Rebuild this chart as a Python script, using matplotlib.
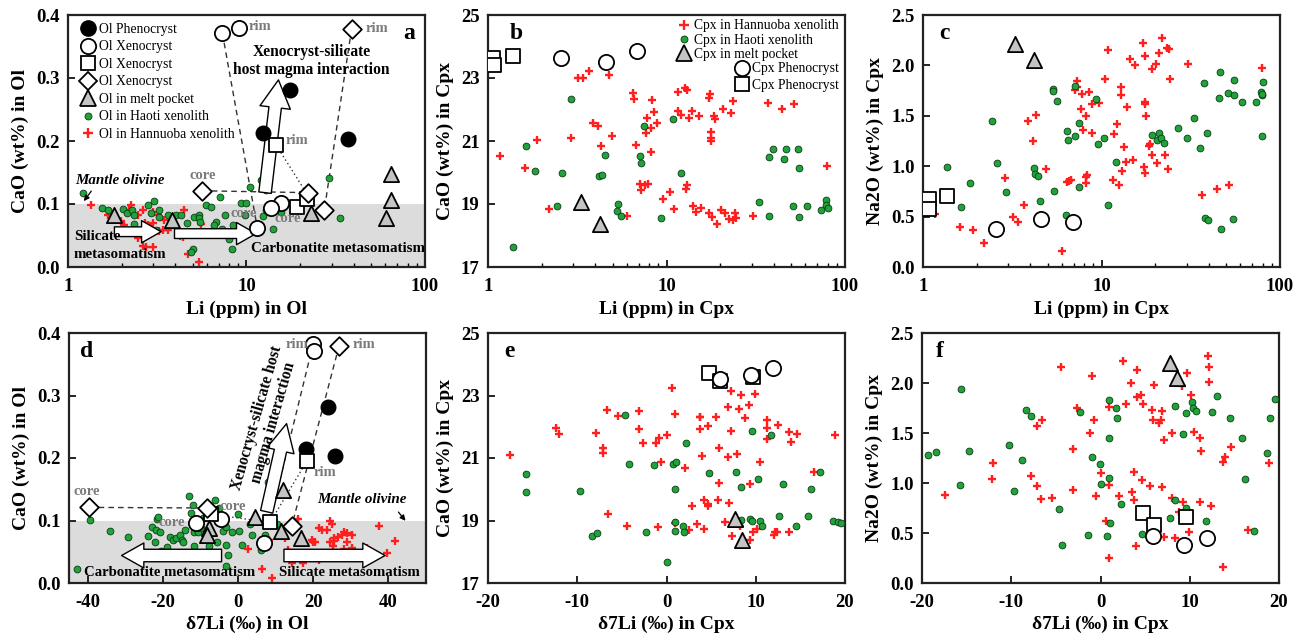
import matplotlib
matplotlib.use("Agg")
import matplotlib.pyplot as plt
import numpy as np
from matplotlib.lines import Line2D

plt.rcParams['font.family'] = ['Liberation Serif', 'DejaVu Serif']
plt.rcParams['font.weight'] = 'bold'
plt.rcParams['axes.labelweight'] = 'bold'
plt.rcParams['axes.unicode_minus'] = False

# ---------------- panel a : Li (ppm) vs CaO in olivine ----------------
a_pheno_li = [12.4, 17.6, 36.8]
a_pheno_ca = [0.213, 0.281, 0.203]
a_circ_li = [7.33, 9.02, 15.6, 13.8, 11.5]
a_circ_ca = [0.371, 0.380, 0.102, 0.094, 0.062]
a_sq_li = [14.7, 19.1, 21.7]
a_sq_ca = [0.193, 0.095, 0.108]
a_dia_li = [38.8, 5.64, 22.0, 27.3]
a_dia_ca = [0.378, 0.121, 0.118, 0.091]
a_tri_li = [1.80, 3.83, 23.1, 64.2, 64.2, 60.2]
a_tri_ca = [0.082, 0.074, 0.086, 0.147, 0.106, 0.078]
a_haoti_li = [1.22, 1.55, 1.67, 2.03, 2.14, 2.29, 2.35, 2.33, 2.80, 3.02, 2.92, 3.25,
              3.25, 3.12, 3.62, 4.03, 4.30, 4.65, 5.0, 4.9, 5.11, 5.45, 5.45, 5.5, 5.94,
              6.34, 6.76, 6.6, 6.4, 7.15, 7.3, 7.59, 7.93, 8.27, 8.4, 9.33, 9.75, 10.4,
              10.9, 12.0, 12.5, 12.9, 13.1, 9.9, 12.8, 12.3, 15.7, 14.0, 29.0, 33.4]
a_haoti_ca = [0.118, 0.093, 0.090, 0.092, 0.085, 0.090, 0.082, 0.069, 0.099, 0.104, 0.085,
              0.090, 0.079, 0.058, 0.083, 0.082, 0.082, 0.070, 0.029, 0.024, 0.080, 0.083,
              0.077, 0.072, 0.098, 0.095, 0.072, 0.066, 0.057, 0.111, 0.061, 0.082, 0.045,
              0.029, 0.067, 0.102, 0.082, 0.127, 0.058, 0.138, 0.131, 0.123, 0.159, 0.101,
              0.091, 0.081, 0.088, 0.061, 0.141, 0.077]
a_hann_li = [1.35, 1.67, 1.98, 2.07, 2.24, 2.21, 2.46, 2.62, 2.71, 2.80, 2.83, 2.48, 2.62,
             2.74, 2.98, 3.01, 2.98, 3.19, 3.25, 3.47, 3.39, 3.62, 4.49, 4.24, 4.39, 4.30,
             5.57, 5.45, 4.71]
a_hann_ca = [0.099, 0.082, 0.073, 0.066, 0.099, 0.090, 0.083, 0.091, 0.070, 0.066, 0.058,
             0.046, 0.034, 0.031, 0.032, 0.070, 0.087, 0.083, 0.057, 0.074, 0.058, 0.058,
             0.090, 0.050, 0.048, 0.055, 0.069, 0.008, 0.020]

# ---------------- panel b : Li vs CaO in Cpx ----------------
b_hann_li = [1.17, 1.61, 1.89, 2.20, 2.90, 3.20, 3.40, 3.68, 3.88, 4.13, 4.28, 4.75, 4.92,
             6.02, 6.45, 6.58, 6.72, 7.14, 7.24, 7.56, 7.87, 7.72, 7.78, 8.17, 8.23, 8.3,
             8.5, 8.8, 9.58, 10.4, 11.0, 11.6, 11.6, 12.1, 12.7, 13.1, 12.9, 13.0, 13.4,
             14.0, 13.9, 14.6, 15.3, 15.6, 17.4, 17.5, 17.7, 17.7, 17.7, 17.4, 17.9, 18.4,
             18.8, 19.1, 20.3, 20.8, 21.2, 22.3, 22.9, 23.5, 23.5, 24.2, 24.5, 30.4, 36.8,
             44.6, 51.8, 79.0]
b_hann_ca = [20.52, 20.15, 21.03, 18.83, 21.08, 22.99, 22.99, 23.22, 21.58, 21.48, 20.85,
             23.09, 21.15, 18.61, 22.51, 22.32, 20.87, 19.63, 19.44, 19.60, 19.65, 21.26,
             21.72, 20.66, 21.40, 22.30, 21.91, 21.58, 19.15, 19.37, 18.83, 22.56, 21.95,
             21.84, 22.69, 22.62, 19.49, 19.60, 21.72, 18.93, 21.95, 18.75, 21.79, 18.86,
             22.37, 22.48, 21.29, 21.11, 20.99, 18.72, 18.59, 21.79, 21.70, 18.35, 18.82,
             22.01, 18.70, 18.52, 21.90, 22.27, 18.49, 18.70, 18.57, 18.62, 22.22, 22.01,
             22.19, 20.21]
b_haoti_li = [1.38, 1.64, 1.83, 2.42, 2.61, 2.93, 4.19, 4.36, 4.54, 5.35, 5.31, 5.58, 7.14,
              7.18, 7.45, 9.29, 10.9, 12.1, 33.1, 37.5, 37.5, 39.5, 45.5, 46.5, 51.3, 54.4,
              55.3, 55.5, 60.9, 73.7, 77.9, 78.0, 79.8]
b_haoti_ca = [17.64, 20.85, 20.05, 18.94, 19.99, 22.33, 19.89, 19.92, 20.54, 19.00, 18.78,
              18.62, 20.53, 20.29, 21.47, 18.57, 21.70, 19.99, 19.05, 18.62, 20.50, 20.76,
              20.44, 20.76, 18.94, 20.75, 18.59, 20.15, 18.93, 18.82, 19.12, 18.96, 18.88]
b_tri_li = [3.31, 4.23]
b_tri_ca = [19.05, 18.36]
b_circ_li = [2.56, 4.61, 6.87]
b_circ_ca = [23.65, 23.52, 23.87]
b_sq_li = [1.07, 1.08, 1.38]
b_sq_ca = [23.62, 23.42, 23.70]

# ---------------- panel c : Li vs Na2O in Cpx ----------------
c_hann_li = [1.17, 1.61, 1.90, 2.19, 2.89, 3.20, 3.41, 3.67, 3.86, 4.14, 4.30, 4.65, 4.89,
             6.0, 6.42, 6.55, 6.74, 7.1, 7.3, 7.3, 7.7, 7.8, 7.9, 8.2, 8.2, 8.2, 8.3, 8.5,
             8.8, 8.8, 9.7, 10.4, 10.9, 11.6, 11.7, 12.2, 12.5, 12.9, 12.9, 13.3, 13.0,
             13.9, 13.7, 14.5, 15.1, 15.5, 17.1, 17.5, 17.5, 17.6, 17.3, 17.6, 17.7, 18.5,
             18.6, 19.1, 19.1, 20.3, 20.5, 21.1, 21.9, 22.7, 23.4, 24.0, 23.6, 24.3, 30.7,
             36.7, 44.5, 52.1, 79.2]
c_hann_na = [0.53, 0.40, 0.37, 0.24, 0.88, 0.50, 0.45, 0.62, 1.45, 1.25, 1.51, 0.46, 0.97,
             0.16, 0.84, 0.85, 0.86, 1.76, 1.85, 1.79, 1.57, 1.72, 1.36, 1.50, 0.89, 0.83,
             0.91, 1.74, 1.62, 1.33, 1.63, 1.87, 2.15, 0.86, 1.32, 1.42, 0.81, 1.79, 1.71,
             1.19, 0.95, 1.59, 1.04, 2.06, 1.06, 2.00, 2.22, 1.64, 1.62, 2.09, 0.99, 0.93,
             1.50, 1.20, 1.22, 1.96, 1.11, 2.01, 1.03, 2.12, 2.27, 1.11, 2.17, 2.16, 0.97,
             1.87, 2.01, 0.71, 0.77, 0.81, 1.97]
c_haoti_li = [1.37, 1.63, 1.83, 2.42, 2.60, 2.92, 4.21, 4.26, 4.39, 4.54, 5.33, 5.35, 5.40,
              5.64, 6.3, 6.42, 6.48, 7.15, 7.15, 7.45, 7.45, 9.3, 9.6, 10.3, 10.9, 12.1,
              19.3, 20.5, 20.9, 21.6, 22.3, 26.8, 30.2, 32.9, 35.8, 37.3, 37.8, 39.4, 39.0,
              45.5, 46.1, 46.8, 51.4, 54.7, 55.1, 55.5, 60.9, 73.7, 78.0, 79.0, 79.4, 80.8,
              79.0]
c_haoti_na = [0.99, 0.60, 0.83, 1.45, 1.03, 0.74, 0.98, 0.92, 0.90, 0.65, 1.77, 1.75, 0.75,
              1.65, 0.52, 1.35, 1.26, 1.30, 1.80, 1.43, 0.79, 1.67, 1.22, 1.28, 0.62, 1.04,
              1.31, 1.26, 1.33, 1.28, 1.23, 1.38, 1.28, 1.48, 1.18, 1.83, 0.49, 0.47, 1.33,
              1.68, 1.93, 0.38, 1.73, 0.48, 1.71, 1.86, 1.64, 1.64, 1.74, 1.71, 1.72, 1.84,
              1.30]
c_tri_li = [3.29, 4.17]
c_tri_na = [2.21, 2.05]
c_circ_li = [2.57, 4.58, 6.9]
c_circ_na = [0.38, 0.48, 0.45]
c_sq_li = [1.08, 1.08, 1.37]
c_sq_na = [0.67, 0.58, 0.70]

# ---------------- panel d : d7Li vs CaO in olivine ----------------
d_pheno_d7 = [18.0, 23.8, 25.8]
d_pheno_ca = [0.215, 0.282, 0.204]
d_circ_d7 = [20.0, 20.3, -11.2, -4.6, 7.0]
d_circ_ca = [0.383, 0.371, 0.096, 0.102, 0.064]
d_sq_d7 = [18.3, 8.5, -7.2]
d_sq_ca = [0.195, 0.097, 0.110]
d_dia_d7 = [26.9, -39.7, -8.4, 14.3]
d_dia_ca = [0.380, 0.121, 0.120, 0.092]
d_tri_d7 = [-7.7, -8.2, 4.5, 11.9, 11.4, 16.7]
d_tri_ca = [0.088, 0.077, 0.106, 0.149, 0.084, 0.072]
d_haoti_d7 = [-42.8, -39.3, -34.0, -29.3, -24.1, -23.0, -21.9, -21.5, -21.4, -20.8, -22.1,
              -20.4, -21.0, -18.8, -18.2, -17.4, -16.6, -15.5, -15.0, -14.6, -14.2, -13.1,
              -12.6, -11.9, -11.7, -11.7, -10.8, -9.9, -9.3, -7.7, -6.2, -5.7, -5.0, -3.9,
              -3.2, -3.2, -2.6, -3.2, -1.7, 0.1, 0.2, 1.1, 3.2, 3.8, 6.0, 7.2, 7.9, 10.3]
d_haoti_ca = [0.022, 0.101, 0.084, 0.073, 0.076, 0.089, 0.085, 0.102, 0.106, 0.082, 0.066,
              0.051, 0.044, 0.057, 0.074, 0.069, 0.072, 0.077, 0.069, 0.066, 0.085, 0.139,
              0.112, 0.125, 0.060, 0.081, 0.082, 0.088, 0.104, 0.059, 0.133, 0.066, 0.120,
              0.084, 0.089, 0.061, 0.045, 0.028, 0.082, 0.110, 0.084, 0.061, 0.095, 0.077,
              0.053, 0.077, 0.161, 0.094]
d_hann_d7 = [2.7, 6.3, 9.0, 8.3, 12.5, 13.4, 14.7, 14.3, 15.9, 17.4, 19.6, 19.9, 20.5, 21.6,
             21.6, 22.3, 23.6, 24.5, 24.9, 24.5, 25.2, 25.4, 25.6, 26.7, 27.6, 28.3, 28.9,
             28.9, 28.3, 30.2, 30.2, 34.2, 37.6, 39.6, 41.8]
d_hann_ca = [0.054, 0.022, 0.008, 0.069, 0.072, 0.053, 0.048, 0.032, 0.102, 0.032, 0.069,
             0.065, 0.066, 0.037, 0.088, 0.085, 0.085, 0.100, 0.095, 0.065, 0.059, 0.068,
             0.072, 0.074, 0.077, 0.082, 0.066, 0.080, 0.054, 0.056, 0.077, 0.056, 0.091,
             0.048, 0.068]

# ---------------- panel e : d7Li vs CaO in Cpx ----------------
e_hann_d7 = [-17.5, -12.4, -12.1, -7.9, -7.1, -7.1, -6.7, -6.6, -5.4, -4.4, -3.1, -3.1, -2.6,
             -1.2, -0.9, -0.8, -0.6, 0.0, 0.6, 0.9, 0.9, 2.1, 2.5, 2.9, 3.4, 3.7, 3.7, 3.8,
             4.0, 4.2, 4.2, 4.6, 4.7, 4.7, 5.5, 5.9, 5.9, 5.8, 6.6, 6.9, 6.9, 7.0, 7.2, 7.2,
             7.3, 7.9, 8.1, 8.2, 8.4, 8.8, 9.2, 9.3, 9.3, 9.7, 9.9, 10.1, 10.5, 11.3, 11.3,
             11.3, 12.1, 12.2, 12.4, 12.5, 13.7, 13.7, 14.0, 14.6, 16.5, 18.9]
e_hann_ca = [21.10, 21.97, 21.76, 21.81, 21.33, 21.17, 22.53, 19.20, 22.35, 18.84, 22.50,
             21.93, 21.49, 21.47, 18.78, 21.63, 20.88, 21.73, 23.24, 22.40, 18.91, 20.68,
             18.70, 19.47, 18.89, 21.93, 22.30, 22.30, 21.06, 19.66, 18.72, 22.02, 19.45,
             19.52, 22.30, 21.32, 20.21, 19.66, 18.95, 21.04, 22.64, 19.57, 23.14, 21.86,
             18.49, 21.12, 22.56, 18.81, 23.03, 22.27, 22.71, 20.17, 18.38, 18.63, 23.04,
             18.73, 20.88, 22.23, 21.97, 21.60, 18.54, 18.63, 18.62, 22.05, 18.63, 21.84,
             21.50, 21.77, 20.54, 21.73]
e_haoti_d7 = [-15.7, -15.7, -9.7, -8.4, -7.8, -4.7, -4.2, -2.3, -1.4, 0.1, 0.7, 1.1, 1.0, 0.9,
              1.0, 1.8, 2.0, 2.2, 4.8, 7.8, 8.4, 8.4, 9.3, 9.6, 9.6, 10.3, 10.5, 10.7, 11.7,
              12.6, 13.1, 14.5, 15.8, 16.2, 17.2, 18.7, 19.2, 19.6]
e_haoti_ca = [20.48, 19.90, 19.96, 18.49, 18.60, 22.37, 20.80, 18.62, 20.78, 17.66, 20.80,
              20.86, 20.00, 18.95, 18.67, 18.81, 18.63, 21.49, 20.53, 20.56, 20.06, 19.02,
              19.05, 18.97, 21.87, 20.32, 19.00, 18.84, 21.73, 19.15, 20.17, 18.84, 19.13,
              20.00, 20.54, 19.00, 18.94, 18.91]
e_tri_d7 = [7.7, 8.5]
e_tri_ca = [19.05, 18.38]
e_circ_d7 = [6.0, 9.5, 11.9]
e_circ_ca = [23.52, 23.65, 23.89]
e_sq_d7 = [4.8, 6.0, 9.7]
e_sq_ca = [23.72, 23.46, 23.60]

# ---------------- panel f : d7Li vs Na2O in Cpx ----------------
f_hann_d7 = [-17.4, -12.2, -12.0, -7.8, -7.1, -7.1, -6.5, -6.7, -5.4, -4.4, -3.1, -3.1, -2.6,
             -1.2, -0.9, -0.7, -0.5, 0.0, 0.6, 0.9, 0.9, 1.0, 2.1, 2.5, 2.9, 3.4, 3.5, 3.7,
             3.8, 4.0, 4.1, 4.1, 4.5, 4.7, 4.8, 5.6, 5.8, 5.9, 6.0, 6.5, 6.8, 6.9, 6.9, 7.1,
             7.1, 8.0, 8.0, 8.3, 8.3, 8.8, 9.1, 9.2, 9.4, 9.7, 9.9, 10.1, 10.5, 11.2, 11.2,
             11.3, 12.1, 12.2, 12.2, 12.4, 13.7, 13.7, 14.0, 14.6, 16.5, 18.9]
f_hann_na = [0.88, 1.04, 1.20, 1.07, 0.97, 1.57, 1.63, 0.84, 0.85, 2.16, 1.34, 0.93, 1.75,
             1.50, 2.07, 1.63, 0.87, 1.10, 0.62, 0.25, 0.98, 1.76, 0.87, 2.22, 1.79, 2.00,
             0.91, 1.11, 0.83, 0.37, 2.13, 1.86, 1.88, 1.03, 1.79, 0.97, 1.73, 1.63, 1.98,
             1.60, 1.63, 1.72, 0.96, 1.43, 0.46, 1.50, 0.85, 0.45, 2.01, 0.71, 1.97, 0.81,
             0.41, 2.10, 0.51, 1.88, 1.51, 0.81, 1.45, 1.32, 2.27, 2.16, 2.01, 0.77, 0.16,
             1.21, 1.26, 1.36, 0.53, 1.20]
f_haoti_d7 = [-19.3, -18.4, -15.7, -15.6, -14.7, -10.3, -9.7, -8.8, -8.3, -7.8, -4.7, -4.3,
              -2.3, -1.4, -1.0, -0.1, 0.1, 0.7, 0.9, 1.0, 1.0, 1.1, 1.7, 1.9, 2.3, 4.7, 7.8,
              8.3, 8.4, 9.2, 9.6, 9.6, 10.3, 10.4, 10.7, 11.8, 12.5, 13.1, 14.5, 15.8, 16.2,
              17.2, 18.7, 19.0, 19.5]
f_haoti_na = [1.28, 1.31, 0.98, 1.94, 1.32, 1.38, 0.92, 1.23, 1.73, 1.67, 0.74, 0.38, 1.71,
              0.48, 1.26, 1.19, 0.99, 0.47, 1.45, 1.05, 1.83, 0.60, 1.75, 1.65, 0.79, 0.49,
              0.65, 0.83, 1.77, 1.49, 0.75, 1.70, 1.81, 1.75, 1.72, 0.62, 1.71, 1.87, 1.65,
              1.45, 1.04, 0.52, 1.30, 1.65, 1.84]
f_tri_d7 = [7.8, 8.6]
f_tri_na = [2.20, 2.05]
f_circ_d7 = [5.9, 9.4, 11.9]
f_circ_na = [0.47, 0.38, 0.45]
f_sq_d7 = [4.8, 6.0, 9.6]
f_sq_na = [0.70, 0.58, 0.66]

GREEN = '#1fa33a'
GREEN_EDGE = '#0b3a14'
RED = '#ff1f1f'
TRI_FC = '#c4c4c4'
GRAY_TXT = '#7a7a7a'
SHADE = '#dcdcdc'
TICK_FS = 13.5
NOTE_FS = 10.8
LEG_FS = 9.8


def red_cross(ax, x, y, s=38):
    ax.scatter(x, y, marker='+', s=s, c=RED, linewidths=1.7, zorder=3)


def green_dot(ax, x, y, s=24):
    ax.scatter(x, y, marker='o', s=s, c=GREEN, edgecolors=GREEN_EDGE, linewidths=0.6, zorder=3)


def open_marker(ax, x, y, m, s=110, fc='white'):
    ax.scatter(x, y, marker=m, s=s, facecolors=fc, edgecolors='black', linewidths=1.3, zorder=5)


def style_axes(ax):
    for sp in ax.spines.values():
        sp.set_linewidth(1.6)
        sp.set_color('#222222')
    ax.tick_params(axis='both', which='both', direction='in', labelsize=TICK_FS,
                   top=False, right=False)
    ax.tick_params(axis='x', which='both', pad=8)
    ax.tick_params(axis='y', which='both', pad=6)
    ax.tick_params(which='major', length=5, width=1.2)
    ax.tick_params(which='minor', length=3, width=1.0)
    for lab in ax.get_xticklabels() + ax.get_yticklabels():
        lab.set_fontweight('bold')


def log_x(ax):
    ax.set_xscale('log')
    ax.set_xlim(1, 100)
    ax.set_xticks([1, 10, 100])
    ax.set_xticklabels(['1', '10', '100'])


def hollow_arrow(ax, tail, head, tw=0.45, hw=1.0, hl=0.9, ms=18):
    ax.annotate('', xy=head, xytext=tail,
                arrowprops=dict(arrowstyle='simple,head_length=%g,head_width=%g,tail_width=%g' % (hl, hw, tw),
                                fc='white', ec='black', lw=1.0, mutation_scale=ms,
                                shrinkA=0, shrinkB=0), zorder=4)


fig = plt.figure(figsize=(13.04, 6.4), dpi=100)

W = 357 / 1304
H_TOP = 252 / 640
H_BOT = 250 / 640
ax_a = fig.add_axes([68 / 1304, 373 / 640, W, H_TOP])
ax_b = fig.add_axes([488 / 1304, 373 / 640, W, H_TOP])
ax_c = fig.add_axes([923 / 1304, 373 / 640, W, H_TOP])
ax_d = fig.add_axes([69 / 1304, 57 / 640, W, H_BOT])
ax_e = fig.add_axes([488 / 1304, 57 / 640, W, H_BOT])
ax_f = fig.add_axes([922 / 1304, 57 / 640, W, H_BOT])

# ---------------- a ----------------
ax = ax_a
log_x(ax)
ax.set_ylim(0, 0.4)
ax.set_yticks([0, 0.1, 0.2, 0.3, 0.4])
ax.set_yticklabels(['0.0', '0.1', '0.2', '0.3', '0.4'])
ax.axhspan(0, 0.1, color=SHADE, zorder=0, lw=0)
# core-rim tie lines
ax.plot([7.33, 11.5], [0.371, 0.062], ls=(0, (4, 3)), color='#333333', lw=1.0, zorder=2)
ax.plot([38.8, 27.3], [0.378, 0.091], ls=(0, (4, 3)), color='#333333', lw=1.0, zorder=2)
ax.plot([5.64, 22.0], [0.121, 0.118], ls=(0, (4, 3)), color='#333333', lw=1.0, zorder=2)
ax.plot([14.7, 21.7], [0.193, 0.117], ls=(0, (1, 2)), color='#333333', lw=1.0, zorder=2)
red_cross(ax, a_hann_li, a_hann_ca)
green_dot(ax, a_haoti_li, a_haoti_ca)
hollow_arrow(ax, (1.82, 0.056), (3.32, 0.056), tw=0.35, hw=0.8, hl=0.7, ms=20)
hollow_arrow(ax, (3.95, 0.053), (11.3, 0.053), tw=0.35, hw=0.8, hl=0.7, ms=20)
hollow_arrow(ax, (12.7, 0.118), (15.1, 0.297), tw=0.45, hw=1.1, hl=1.0, ms=20)
ax.scatter(a_pheno_li, a_pheno_ca, marker='o', s=110, c='black', zorder=5)
open_marker(ax, a_circ_li, a_circ_ca, 'o', s=120)
open_marker(ax, a_sq_li, a_sq_ca, 's', s=100)
open_marker(ax, a_dia_li, a_dia_ca, 'D', s=90)
open_marker(ax, a_tri_li, a_tri_ca, '^', s=120, fc=TRI_FC)
lbl = dict(color=GRAY_TXT, fontsize=10.5, fontweight='bold', zorder=6)
ax.text(11.9, 0.381, 'rim', ha='center', va='center', **lbl)
ax.text(53.6, 0.379, 'rim', ha='center', va='center', **lbl)
ax.text(19.1, 0.201, 'rim', ha='center', va='center', **lbl)
ax.text(5.7, 0.146, 'core', ha='center', va='center', **lbl)
ax.text(9.6, 0.085, 'core', ha='center', va='center', **lbl)
ax.text(17.0, 0.077, 'core', ha='center', va='center', **lbl)
ax.text(1.1, 0.138, 'Mantle olivine', style='italic', fontsize=10.8, fontweight='bold',
        ha='left', va='center', zorder=6)
ax.annotate('', xy=(1.2, 0.101), xytext=(1.38, 0.124),
            arrowprops=dict(arrowstyle='-|>', lw=0.9, color='black', mutation_scale=8))
ax.text(23.2, 0.341, 'Xenocryst-silicate', fontsize=11.2, ha='center', va='center', zorder=6)
ax.text(23.2, 0.312, 'host magma interaction', fontsize=11.2, ha='center', va='center', zorder=6)
ax.text(1.08, 0.049, 'Silicate', fontsize=NOTE_FS, ha='left', va='center', zorder=6)
ax.text(1.08, 0.020, 'metasomatism', fontsize=NOTE_FS, ha='left', va='center', zorder=6)
ax.text(32.7, 0.030, 'Carbonatite metasomatism', fontsize=NOTE_FS, ha='center', va='center', zorder=6)
ax.text(0.955, 0.925, 'a', transform=ax.transAxes, fontsize=17, ha='center', va='center')
handles_a = [
    Line2D([], [], marker='o', ls='', ms=11, mfc='black', mec='black'),
    Line2D([], [], marker='o', ls='', ms=11, mfc='white', mec='black', mew=1.3),
    Line2D([], [], marker='s', ls='', ms=10, mfc='white', mec='black', mew=1.3),
    Line2D([], [], marker='D', ls='', ms=9.5, mfc='white', mec='black', mew=1.3),
    Line2D([], [], marker='^', ls='', ms=11, mfc=TRI_FC, mec='black', mew=1.3),
    Line2D([], [], marker='o', ls='', ms=5, mfc=GREEN, mec=GREEN_EDGE, mew=0.6),
    Line2D([], [], marker='+', ls='', ms=7, mec=RED, mew=1.7),
]
labels_a = ['Ol Phenocryst', 'Ol Xenocryst', 'Ol Xenocryst', 'Ol Xenocryst',
            'Ol in melt pocket', 'Ol in Haoti xenolith', 'Ol in Hannuoba xenolith']
ax.legend(handles_a, labels_a, loc='upper left', bbox_to_anchor=(0.0, 1.012),
          frameon=False, handletextpad=0.15, handlelength=1.3,
          labelspacing=0.33, borderpad=0.3, prop={'weight': 'normal', 'size': LEG_FS})
ax.set_xlabel('Li (ppm) in Ol', fontsize=14, labelpad=4)
ax.set_ylabel('CaO (wt%) in Ol', fontsize=14, labelpad=5)
style_axes(ax)

# ---------------- b ----------------
ax = ax_b
log_x(ax)
ax.set_ylim(17, 25)
ax.set_yticks([17, 19, 21, 23, 25])
red_cross(ax, b_hann_li, b_hann_ca)
green_dot(ax, b_haoti_li, b_haoti_ca)
open_marker(ax, b_tri_li, b_tri_ca, '^', s=120, fc=TRI_FC)
open_marker(ax, b_circ_li, b_circ_ca, 'o', s=120)
open_marker(ax, b_sq_li, b_sq_ca, 's', s=100)
ax.text(0.08, 0.925, 'b', transform=ax.transAxes, fontsize=17, ha='center', va='center')
h1 = [Line2D([], [], marker='+', ls='', ms=7, mec=RED, mew=1.7),
      Line2D([], [], marker='o', ls='', ms=5, mfc=GREEN, mec=GREEN_EDGE, mew=0.6),
      Line2D([], [], marker='^', ls='', ms=11, mfc=TRI_FC, mec='black', mew=1.3)]
leg1 = ax.legend(h1, ['Cpx in Hannuoba xenolith', 'Cpx in Haoti xenolith', 'Cpx in melt pocket'],
                 loc='upper right', bbox_to_anchor=(1.01, 1.02), frameon=False,
                 handletextpad=0.1, handlelength=1.3, labelspacing=0.1, borderpad=0.2,
                 prop={'weight': 'normal', 'size': LEG_FS})
ax.add_artist(leg1)
h2 = [Line2D([], [], marker='o', ls='', ms=11, mfc='white', mec='black', mew=1.3),
      Line2D([], [], marker='s', ls='', ms=10, mfc='white', mec='black', mew=1.3)]
ax.legend(h2, ['Cpx Phenocryst', 'Cpx Phenocryst'], loc='upper right',
          bbox_to_anchor=(1.01, 0.85), frameon=False, handletextpad=0.1, handlelength=1.3,
          labelspacing=0.25, borderpad=0.2, prop={'weight': 'normal', 'size': LEG_FS})
ax.set_xlabel('Li (ppm) in Cpx', fontsize=14, labelpad=4)
ax.set_ylabel('CaO (wt%) in Cpx', fontsize=14, labelpad=5)
style_axes(ax)

# ---------------- c ----------------
ax = ax_c
log_x(ax)
ax.set_ylim(0, 2.5)
ax.set_yticks([0, 0.5, 1.0, 1.5, 2.0, 2.5])
ax.set_yticklabels(['0.0', '0.5', '1.0', '1.5', '2.0', '2.5'])
red_cross(ax, c_hann_li, c_hann_na)
green_dot(ax, c_haoti_li, c_haoti_na)
open_marker(ax, c_tri_li, c_tri_na, '^', s=120, fc=TRI_FC)
open_marker(ax, c_circ_li, c_circ_na, 'o', s=120)
open_marker(ax, c_sq_li, c_sq_na, 's', s=100)
ax.text(0.06, 0.925, 'c', transform=ax.transAxes, fontsize=17, ha='center', va='center')
ax.set_xlabel('Li (ppm) in Cpx', fontsize=14, labelpad=4)
ax.set_ylabel('Na2O (wt%) in Cpx', fontsize=14, labelpad=5)
style_axes(ax)

# ---------------- d ----------------
ax = ax_d
ax.set_xlim(-45, 50)
ax.set_ylim(0, 0.4)
ax.set_xticks([-40, -20, 0, 20, 40])
ax.set_yticks([0, 0.1, 0.2, 0.3, 0.4])
ax.set_yticklabels(['0.0', '0.1', '0.2', '0.3', '0.4'])
ax.axhspan(0, 0.1, color=SHADE, zorder=0, lw=0)
ax.plot([-39.7, -8.4], [0.121, 0.120], ls=(0, (4, 3)), color='#333333', lw=1.0, zorder=2)
ax.plot([26.9, 14.3], [0.380, 0.092], ls=(0, (4, 3)), color='#333333', lw=1.0, zorder=2)
ax.plot([20.0, 7.0], [0.383, 0.064], ls=(0, (4, 3)), color='#333333', lw=1.0, zorder=2)
ax.plot([18.3, 8.5, -7.2], [0.195, 0.097, 0.110], ls=(0, (1, 2)), color='#333333', lw=1.0, zorder=2)
green_dot(ax, d_haoti_d7, d_haoti_ca)
red_cross(ax, d_hann_d7, d_hann_ca)
hollow_arrow(ax, (-4.4, 0.044), (-31.0, 0.044), tw=0.45, hw=0.9, hl=0.8, ms=20)
hollow_arrow(ax, (12.2, 0.044), (39.1, 0.044), tw=0.45, hw=0.9, hl=0.8, ms=20)
hollow_arrow(ax, (7.6, 0.114), (12.9, 0.255), tw=0.45, hw=1.0, hl=1.0, ms=20)
ax.scatter(d_pheno_d7, d_pheno_ca, marker='o', s=110, c='black', zorder=5)
open_marker(ax, d_circ_d7, d_circ_ca, 'o', s=120)
open_marker(ax, d_sq_d7, d_sq_ca, 's', s=100)
open_marker(ax, d_dia_d7, d_dia_ca, 'D', s=90)
open_marker(ax, d_tri_d7, d_tri_ca, '^', s=120, fc=TRI_FC)
ax.text(15.6, 0.381, 'rim', ha='center', va='center', **lbl)
ax.text(33.4, 0.381, 'rim', ha='center', va='center', **lbl)
ax.text(23.1, 0.177, 'rim', ha='center', va='center', **lbl)
ax.text(-40.4, 0.146, 'core', ha='center', va='center', **lbl)
ax.text(-1.3, 0.123, 'core', ha='center', va='center', **lbl)
ax.text(-17.7, 0.097, 'core', ha='center', va='center', **lbl)
ax.text(32.9, 0.134, 'Mantle olivine', style='italic', fontsize=10.8, fontweight='bold',
        ha='center', va='center', zorder=6)
ax.annotate('', xy=(45.0, 0.096), xytext=(42.2, 0.117),
            arrowprops=dict(arrowstyle='-|>', lw=0.9, color='black', mutation_scale=8))
ax.text(7.2, 0.261, 'Xenocryst-silicate host\nmagma interaction', fontsize=11.2,
        rotation=74, ha='center', va='center', linespacing=1.1, zorder=6)
ax.text(-18.2, 0.016, 'Carbonatite metasomatism', fontsize=10.6, ha='center', va='center', zorder=6)
ax.text(29.6, 0.016, 'Silicate metasomatism', fontsize=10.6, ha='center', va='center', zorder=6)
ax.text(0.05, 0.925, 'd', transform=ax.transAxes, fontsize=17, ha='center', va='center')
ax.set_xlabel('\u03b47Li (\u2030) in Ol', fontsize=14, labelpad=3)
ax.set_ylabel('CaO (wt%) in Ol', fontsize=14, labelpad=5)
style_axes(ax)

# ---------------- e ----------------
ax = ax_e
ax.set_xlim(-20, 20)
ax.set_ylim(17, 25)
ax.set_xticks([-20, -10, 0, 10, 20])
ax.set_yticks([17, 19, 21, 23, 25])
red_cross(ax, e_hann_d7, e_hann_ca)
green_dot(ax, e_haoti_d7, e_haoti_ca)
open_marker(ax, e_tri_d7, e_tri_ca, '^', s=120, fc=TRI_FC)
open_marker(ax, e_sq_d7, e_sq_ca, 's', s=100)
open_marker(ax, e_circ_d7, e_circ_ca, 'o', s=120)
ax.text(0.06, 0.925, 'e', transform=ax.transAxes, fontsize=17, ha='center', va='center')
ax.set_xlabel('\u03b47Li (\u2030) in Cpx', fontsize=14, labelpad=3)
ax.set_ylabel('CaO (wt%) in Cpx', fontsize=14, labelpad=5)
style_axes(ax)

# ---------------- f ----------------
ax = ax_f
ax.set_xlim(-20, 20)
ax.set_ylim(0, 2.5)
ax.set_xticks([-20, -10, 0, 10, 20])
ax.set_yticks([0, 0.5, 1.0, 1.5, 2.0, 2.5])
ax.set_yticklabels(['0.0', '0.5', '1.0', '1.5', '2.0', '2.5'])
red_cross(ax, f_hann_d7, f_hann_na)
green_dot(ax, f_haoti_d7, f_haoti_na)
open_marker(ax, f_tri_d7, f_tri_na, '^', s=120, fc=TRI_FC)
open_marker(ax, f_sq_d7, f_sq_na, 's', s=100)
open_marker(ax, f_circ_d7, f_circ_na, 'o', s=120)
ax.text(0.05, 0.925, 'f', transform=ax.transAxes, fontsize=17, ha='center', va='center')
ax.set_xlabel('\u03b47Li (\u2030) in Cpx', fontsize=14, labelpad=3)
ax.set_ylabel('Na2O (wt%) in Cpx', fontsize=14, labelpad=5)
style_axes(ax)

fig.savefig('out.png', dpi=100)
